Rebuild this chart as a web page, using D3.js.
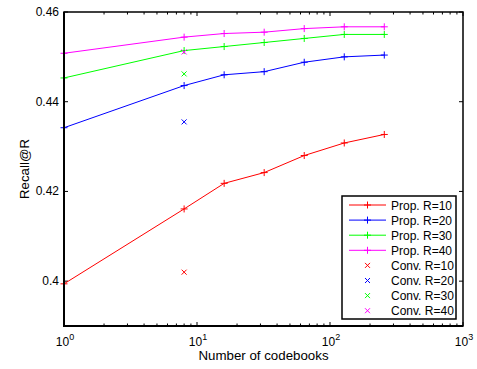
<!DOCTYPE html>
<html>
<head>
<meta charset="utf-8">
<script src="https://cdn.jsdelivr.net/npm/d3@7"></script>
<style>
  body { margin: 0; background: #fff; }
  svg text { font-family: "Liberation Sans", Arial, Helvetica, sans-serif; }
</style>
</head>
<body>
<svg width="477" height="369"></svg>
<script>
// codebooks (x) and recall values
const codebooks = [1, 8, 16, 32, 64, 128, 256];
const propR10 = [0.3994, 0.4161, 0.4218, 0.4242, 0.4280, 0.4308, 0.4327];
const propR20 = [0.4342, 0.4436, 0.4460, 0.4467, 0.4488, 0.4500, 0.4504];
const propR30 = [0.4453, 0.4514, 0.4523, 0.4532, 0.4541, 0.4550, 0.4550];
const propR40 = [0.4508, 0.4544, 0.4552, 0.4555, 0.4563, 0.4567, 0.4567];
const convX = [8];
const convR10 = [0.4020];
const convR20 = [0.4355];
const convR30 = [0.4462];
const convR40 = [0.4511];
const yTicks = [0.4, 0.42, 0.44, 0.46];
const xTicks = [1, 10, 100, 1000];
const colors = ["#ff0000", "#0000ff", "#00ff00", "#ff00ff"];
const propNames = ["Prop. R=10", "Prop. R=20", "Prop. R=30", "Prop. R=40"];
const convNames = ["Conv. R=10", "Conv. R=20", "Conv. R=30", "Conv. R=40"];

const svg = d3.select("svg");
const mL = 64, mR = 463, mT = 12, mB = 326;

const x = d3.scaleLog().domain([1, 1000]).range([mL, mR]);
const y = d3.scaleLinear().domain([0.39, 0.46]).range([mB, mT]);

const props = [propR10, propR20, propR30, propR40];
const convs = [convR10, convR20, convR30, convR40];

// minor ticks of the log axis
const minor = [];
for (let d = 1; d < 1000; d *= 10) {
  for (let k = 2; k <= 9; k++) minor.push(d * k);
}

const g = svg.append("g");

// ticks (inward, on all four sides like matlab)
const tk = g.append("g").attr("stroke", "#000").attr("stroke-width", 1);
minor.forEach(v => {
  tk.append("line").attr("x1", x(v)).attr("x2", x(v)).attr("y1", mB).attr("y2", mB - 2.5);
  tk.append("line").attr("x1", x(v)).attr("x2", x(v)).attr("y1", mT).attr("y2", mT + 2.5);
});
xTicks.forEach(v => {
  tk.append("line").attr("x1", x(v)).attr("x2", x(v)).attr("y1", mB).attr("y2", mB - 4);
  tk.append("line").attr("x1", x(v)).attr("x2", x(v)).attr("y1", mT).attr("y2", mT + 4);
});
yTicks.forEach(v => {
  tk.append("line").attr("x1", mL).attr("x2", mL + 4).attr("y1", y(v)).attr("y2", y(v));
  tk.append("line").attr("x1", mR).attr("x2", mR - 4).attr("y1", y(v)).attr("y2", y(v));
});

// series lines
const line = d3.line()
  .x((d, i) => x(codebooks[i]))
  .y(d => y(d));

props.forEach((vals, i) => {
  g.append("path")
    .attr("d", line(vals))
    .attr("fill", "none")
    .attr("stroke", colors[i])
    .attr("stroke-width", 1);
});

function plus(sel, cx, cy, s, c) {
  sel.append("path")
    .attr("d", `M${cx - s},${cy}H${cx + s}M${cx},${cy - s}V${cy + s}`)
    .attr("stroke", c).attr("stroke-width", 1).attr("fill", "none");
}
function cross(sel, cx, cy, s, c) {
  sel.append("path")
    .attr("d", `M${cx - s},${cy - s}L${cx + s},${cy + s}M${cx - s},${cy + s}L${cx + s},${cy - s}`)
    .attr("stroke", c).attr("stroke-width", 1).attr("fill", "none");
}

props.forEach((vals, i) => {
  vals.forEach((v, j) => plus(g, x(codebooks[j]), y(v), 3.5, colors[i]));
});
convs.forEach((vals, i) => {
  vals.forEach((v, j) => cross(g, x(convX[j]), y(v), 2.5, colors[i]));
});

// axes box
g.append("path")
  .attr("d", `M${mL},${mT}H${mR}V${mB}H${mL}Z`)
  .attr("fill", "none").attr("stroke", "#000").attr("stroke-width", 1.5);
g.append("path")
  .attr("d", `M${mL},${mT}V${mB}H${mR}`)
  .attr("fill", "none").attr("stroke", "#000").attr("stroke-width", 2);

// tick labels
yTicks.forEach(v => {
  g.append("text")
    .attr("x", mL - 5).attr("y", y(v) + 4)
    .attr("text-anchor", "end")
    .attr("font-size", 12)
    .text(d3.format("")(v));
});
xTicks.forEach(v => {
  const t = g.append("text")
    .attr("x", x(v) + 1).attr("y", 346)
    .attr("text-anchor", "middle")
    .attr("font-size", 12);
  t.append("tspan").text("10");
  t.append("tspan").attr("dy", -6).attr("font-size", 9).text(Math.round(Math.log10(v)));
});

// axis titles
g.append("text")
  .attr("x", (mL + mR) / 2).attr("y", 360)
  .attr("text-anchor", "middle").attr("font-size", 13.3)
  .text("Number of codebooks");
g.append("text")
  .attr("transform", `translate(28.5,${(mT + mB) / 2}) rotate(-90)`)
  .attr("text-anchor", "middle").attr("font-size", 13.3)
  .text("Recall@R");

// legend
const lg = g.append("g");
lg.append("rect")
  .attr("x", 342).attr("y", 196).attr("width", 114).attr("height", 123)
  .attr("fill", "#fff").attr("stroke", "#000").attr("stroke-width", 1.5);
const names = propNames.concat(convNames);
names.forEach((n, i) => {
  const ry = 205 + i * 15.1;
  const c = colors[i % 4];
  if (i < 4) {
    lg.append("line").attr("x1", 349).attr("x2", 386).attr("y1", ry).attr("y2", ry)
      .attr("stroke", c).attr("stroke-width", 1);
    plus(lg, 367.5, ry, 3.5, c);
  } else {
    cross(lg, 367.5, ry, 2.5, c);
  }
  lg.append("text").attr("x", 391).attr("y", ry + 4.5)
    .attr("font-size", 12).text(n);
});
</script>
</body>
</html>
